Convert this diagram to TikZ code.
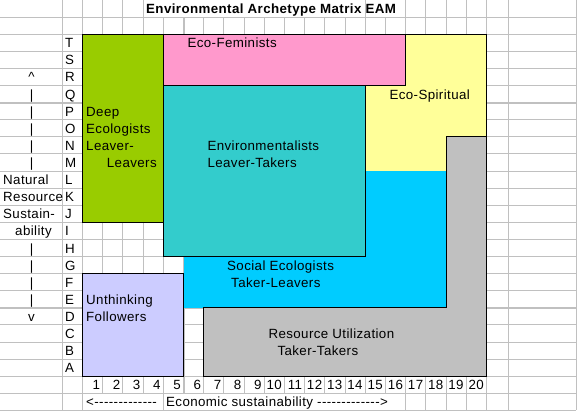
\documentclass[tikz,border=0pt]{standalone}
\usepackage{fontspec}
\newfontfamily\xl{Liberation Sans}[LetterSpace=3]
\definecolor{gridc}{HTML}{C0C0C0}
\definecolor{cgreen}{HTML}{99CC00}
\definecolor{cpink}{HTML}{FF99CC}
\definecolor{cteal}{HTML}{33CCCC}
\definecolor{cyellow}{HTML}{FFFF99}
\definecolor{ccyan}{HTML}{00CCFF}
\definecolor{cgray}{HTML}{C0C0C0}
\definecolor{cpurple}{HTML}{CCCCFF}
\begin{document}
\begin{tikzpicture}[x=1pt,y=-1pt,
  gridline/.style={draw=gridc,line width=0.9pt},
  pbreak/.style={draw=gridc,line width=2pt},
  zoneline/.style={draw=black,line width=1.2pt},
  lbl/.style={font=\xl\fontsize{13.33}{16}\selectfont, anchor=base west, inner sep=0pt},
  num/.style={lbl, anchor=base east},
  mid/.style={lbl, anchor=base},
  ttl/.style={font=\xl\bfseries\fontsize{13.33}{16}\selectfont, anchor=base west, inner sep=0pt}]
\useasboundingbox (0,0) rectangle (577,411);
% horizontal grid lines
\foreach \i in {1,...,24} \draw[gridline] (0,{17.1*\i}) -- (576,{17.1*\i});
% vertical grid lines (rows 1..22)
\foreach \x in {62,82.5,508,576} \draw[gridline] (\x,17.1) -- (\x,393.3);
\foreach \k in {1,...,20} \draw[gridline] ({82.5+20.2*\k},17.1) -- ({82.5+20.2*\k},393.3);
% title row
\foreach \x in {62,82.5,508,576} \draw[gridline] (\x,0) -- (\x,17.1);
\foreach \k in {1,2,3,14,16,17,18,19,20} \draw[gridline] ({82.5+20.2*\k},0) -- ({82.5+20.2*\k},17.1);
% bottom row
\foreach \x in {62,82.5,508,576} \draw[gridline] (\x,393.3) -- (\x,410.4);
\foreach \k in {4,16,17,18,19,20} \draw[gridline] ({82.5+20.2*\k},393.3) -- ({82.5+20.2*\k},410.4);
% page breaks
\draw[pbreak] (0,102.6) -- (576,102.6);
\draw[pbreak] (0,307.8) -- (576,307.8);
\draw[pbreak] ({82.5+20.2*5},17.1) -- ({82.5+20.2*5},393.3);

% zones
\fill[cyellow] ({82.5+20.2*4},34.2) rectangle ({82.5+20.2*20},171);
\draw[zoneline] ({82.5+20.2*4},34.2) -- ({82.5+20.2*20},34.2) -- ({82.5+20.2*20},136.8);
\fill[ccyan] ({82.5+20.2*5},171) rectangle ({82.5+20.2*18},307.8);
\filldraw[fill=cpink,zoneline] ({82.5+20.2*4},34.2) rectangle ({82.5+20.2*16},85.5);
\filldraw[fill=cteal,zoneline] ({82.5+20.2*4},85.5) rectangle ({82.5+20.2*14},256.5);
\filldraw[fill=cgray,zoneline] ({82.5+20.2*18},136.8) -- ({82.5+20.2*20},136.8) -- ({82.5+20.2*20},376.2)
   -- ({82.5+20.2*6},376.2) -- ({82.5+20.2*6},307.8) -- ({82.5+20.2*18},307.8) -- cycle;
\filldraw[fill=cpurple,zoneline] (82.5,273.6) rectangle ({82.5+20.2*5},376.2);
\filldraw[fill=cgreen,zoneline] (82.5,34.2) rectangle ({82.5+20.2*4},222.3);

% title
\node[ttl] (title) at (146,13.6) {Environmental Archetype Matrix EAM};

% row letters
\foreach \l [count=\i from 2] in {T,S,R,Q,P,O,N,M,L,K,J,I,H,G,F,E,D,C,B,A}
  \node[lbl] (let\i) at (65,{17.1*(\i+1)-3.5}) {\l};
% column numbers
\foreach \k in {1,...,20}
  \node[num] (num\k) at ({82.5+20.2*\k-2.5},{17.1*23-3.5}) {\k};

% left axis
\node[mid] (up) at (31.5,{17.1*5-3.5}) {\textasciicircum};
\foreach \i in {5,6,7,8,9,14,15,16,17}
  \node[mid] (bar\i) at (31.5,{17.1*(\i+1)-3.5}) {|};
\node[mid] (down) at (31.5,{17.1*19-3.5}) {v};
\node[lbl] (nat) at (3,{17.1*11-3.5}) {Natural};
\node[lbl] (res) at (3,{17.1*12-3.5}) {Resource};
\node[lbl] (sus) at (3,{17.1*13-3.5}) {Sustain-};
\node[lbl] (abi) at (15,{17.1*14-3.5}) {ability};

% bottom axis
\node[lbl] (left) at (86,{17.1*24-3.5}) {<-------------};
\node[lbl] (econ) at (166,{17.1*24-3.5}) {Economic sustainability ------------->};

% zone labels
\node[lbl] (fem) at (187.3,{17.1*3-3.5}) {Eco-Feminists};
\node[lbl] (deep1) at (86,{17.1*7-3.5}) {Deep};
\node[lbl] (deep2) at (86,{17.1*8-3.5}) {Ecologists};
\node[lbl] (deep3) at (86,{17.1*9-3.5}) {Leaver-};
\node[lbl] (deep4) at (106.7,{17.1*10-3.5}) {Leavers};
\node[lbl] (env1) at (207.3,{17.1*9-3.5}) {Environmentalists};
\node[lbl] (env2) at (207.3,{17.1*10-3.5}) {Leaver-Takers};
\node[lbl] (spir) at (389.3,{17.1*6-3.5}) {Eco-Spiritual};
\node[lbl] (soc1) at (227,{17.1*16-3.5}) {Social Ecologists};
\node[lbl] (soc2) at (231,{17.1*17-3.5}) {Taker-Leavers};
\node[lbl] (unt1) at (86,{17.1*18-3.5}) {Unthinking};
\node[lbl] (unt2) at (86,{17.1*19-3.5}) {Followers};
\node[lbl] (ru1) at (268.3,{17.1*20-3.5}) {Resource Utilization};
\node[lbl] (ru2) at (277.3,{17.1*21-3.5}) {Taker-Takers};
\end{tikzpicture}
\end{document}
